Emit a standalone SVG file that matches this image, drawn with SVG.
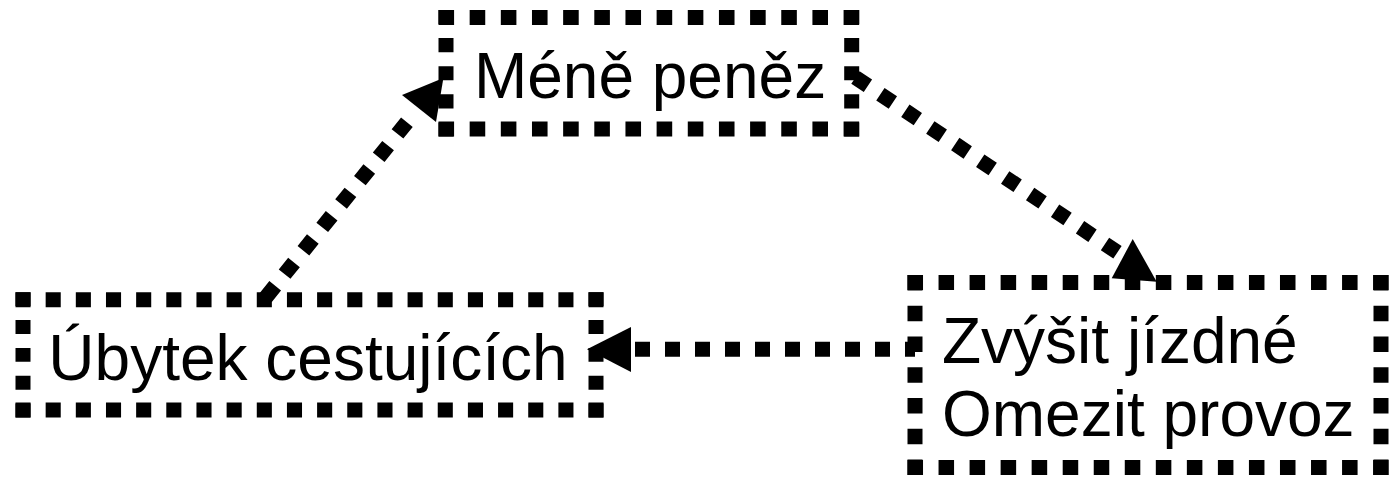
<svg xmlns="http://www.w3.org/2000/svg" width="1390" height="479" viewBox="0 0 1390 479">
<style>
.bg{fill:#fff}
.fill{fill:#fff;stroke:none}
.bd{stroke:#000;stroke-width:15;fill:none;stroke-linecap:butt}
.cn{stroke:#000;stroke-width:15;fill:none;stroke-dasharray:15 15;stroke-linecap:butt}
.ah{fill:#000;stroke:none}
.lbl{font-family:"Liberation Sans",Arial,sans-serif;font-size:64px;fill:#000}
</style>
<rect class="bg" x="0" y="0" width="1390" height="479"/>
<g id="node-mene-penez">
  <rect class="fill" x="446" y="17.5" width="405.7" height="111.5"/>
  <line class="bd" x1="438.5" y1="17.5" x2="859.2" y2="17.5" stroke-dasharray="15.58 15.58"/>
  <line class="bd" x1="438.5" y1="129" x2="859.2" y2="129" stroke-dasharray="15.58 15.58"/>
  <line class="bd" x1="446" y1="10" x2="446" y2="136.5" stroke-dasharray="14.06 14.06"/>
  <line class="bd" x1="851.7" y1="10" x2="851.7" y2="136.5" stroke-dasharray="14.06 14.06"/>
  <text class="lbl" x="650" y="98" text-anchor="middle">Méně peněz</text>
</g>
<g id="node-ubytek-cestujicich">
  <rect class="fill" x="23" y="299.7" width="573" height="110.3"/>
  <line class="bd" x1="15.5" y1="299.7" x2="603.5" y2="299.7" stroke-dasharray="15.08 15.08"/>
  <line class="bd" x1="15.5" y1="410" x2="603.5" y2="410" stroke-dasharray="15.08 15.08"/>
  <line class="bd" x1="23" y1="292.2" x2="23" y2="417.5" stroke-dasharray="13.92 13.92"/>
  <line class="bd" x1="596" y1="292.2" x2="596" y2="417.5" stroke-dasharray="13.92 13.92"/>
  <text class="lbl" x="308" y="380" text-anchor="middle">Úbytek cestujících</text>
</g>
<g id="node-zvysit-jizdne">
  <rect class="fill" x="915" y="282.5" width="466" height="185"/>
  <line class="bd" x1="907.5" y1="282.5" x2="1388.5" y2="282.5" stroke-dasharray="15.52 15.52"/>
  <line class="bd" x1="907.5" y1="467.5" x2="1388.5" y2="467.5" stroke-dasharray="15.52 15.52"/>
  <line class="bd" x1="915" y1="275" x2="915" y2="475" stroke-dasharray="15.38 15.38"/>
  <line class="bd" x1="1381" y1="275" x2="1381" y2="475" stroke-dasharray="15.38 15.38"/>
  <text class="lbl" x="942" y="362.5">Zvýšit jízdné</text>
  <text class="lbl" x="942" y="436">Omezit provoz</text>
</g>
<g id="connectors">
  <g id="edge-ubytek-mene">
    <line class="cn" x1="264" y1="299.7" x2="412" y2="115.9" stroke-dashoffset="27.15"/>
    <polygon class="ah" points="402,95 443.4,78 436,122"/>
  </g>
  <g id="edge-mene-zvysit">
    <line class="cn" x1="851.7" y1="75" x2="1138.7" y2="266.5" stroke-dashoffset="25.5"/>
    <polygon class="ah" points="1132.7,239 1111.7,278.3 1156.7,281.7"/>
  </g>
  <g id="edge-zvysit-ubytek">
    <line class="cn" x1="915" y1="349.3" x2="631" y2="349.3" stroke-dashoffset="5"/>
    <polygon class="ah" points="587,349.3 631,327 631,372"/>
  </g>
</g>
</svg>
